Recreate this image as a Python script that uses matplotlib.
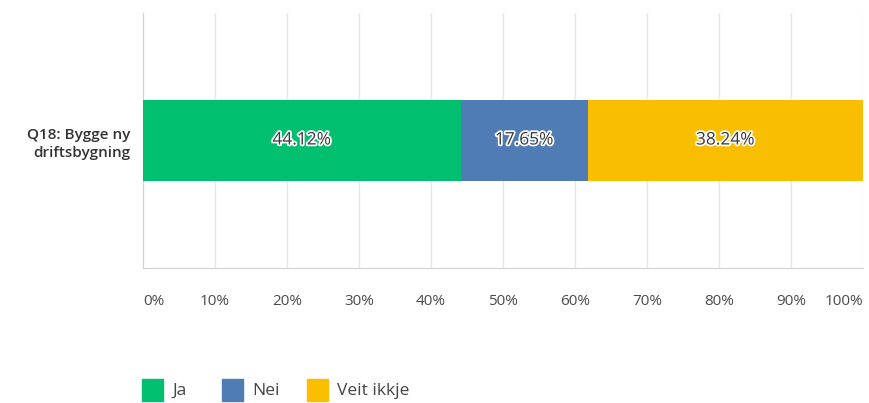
import matplotlib
matplotlib.use("Agg")
import matplotlib.pyplot as plt
import matplotlib.patheffects as pe
from matplotlib.patches import Rectangle

category = "Q18: Bygge ny\ndriftsbygning"
series = ["Ja", "Nei", "Veit ikkje"]
values = [44.12, 17.65, 38.24]
colors = ["#00BF6F", "#507CB6", "#F9BE00"]
ticks = [0, 10, 20, 30, 40, 50, 60, 70, 80, 90, 100]
tick_labels = [f"{t}%" for t in ticks]

plt.rcParams['font.family'] = ['Open Sans', 'DejaVu Sans']

fig = plt.figure(figsize=(8.69, 4.03), dpi=100)
W, H = 869, 403
ax = fig.add_axes([143 / W, 1 - 268 / H, (863 - 143) / W, (268 - 13) / H])

left = 0
for v, c in zip(values, colors):
    ax.barh(0, v, left=left, height=0.32, color=c, zorder=3)
    t = ax.text(left + v / 2, 0, f"{v:.2f}%", ha="center", va="center",
                fontsize=12.5, color="#3a3a3a", zorder=4)
    t.set_path_effects([pe.withStroke(linewidth=2.5, foreground="white")])
    left += v

ax.set_xlim(0, 100)
ax.set_ylim(-0.5, 0.5)
ax.set_xticks(ticks)
ax.set_xticklabels(tick_labels, fontsize=11, color="#4a4a4a", fontweight="medium")
labs = ax.get_xticklabels()
labs[0].set_horizontalalignment("left")
labs[-1].set_horizontalalignment("right")
ax.tick_params(axis="x", length=0, pad=19)
ax.set_yticks([0])
ax.set_yticklabels([category], fontsize=11, color="#333333", fontweight="semibold",
                   ha="right", linespacing=1.35)
ax.tick_params(axis="y", length=0, pad=9)
ax.grid(axis="x", color="#e6e6e6", linewidth=1, zorder=0)
for s in ["top", "right"]:
    ax.spines[s].set_visible(False)
ax.spines["left"].set_color("#d0d0d0")
ax.spines["bottom"].set_color("#d0d0d0")

# legend
lx = [142, 222, 307]
for x, c, s in zip(lx, colors, series):
    fig.patches.append(Rectangle((x / W, 1 - 401 / H), 21 / W, 22 / H,
                                 transform=fig.transFigure, color=c))
    fig.text((x + 30) / W, 1 - 391 / H, s, fontsize=12.5, color="#444444",
             va="center", ha="left", fontweight="medium")

fig.savefig("out.png", dpi=100)
